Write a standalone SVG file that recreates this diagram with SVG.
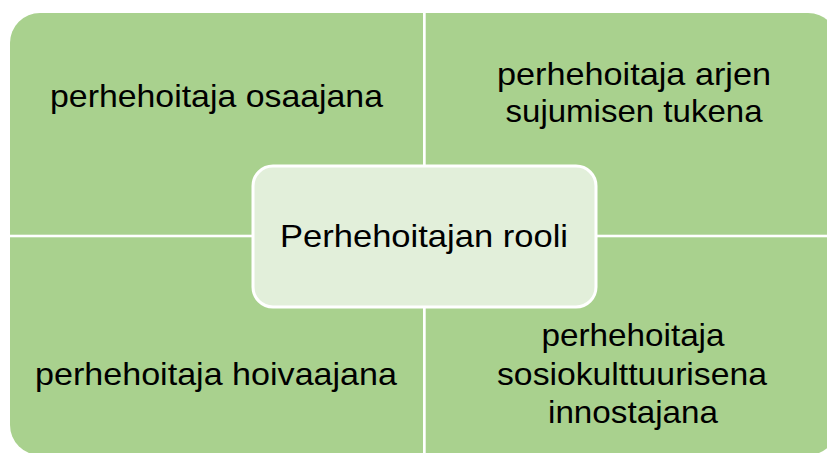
<svg xmlns="http://www.w3.org/2000/svg" width="827" height="453" viewBox="0 0 827 453">
  <defs>
    <clipPath id="outer">
      <rect x="10" y="13" width="828" height="442" rx="30" ry="30"/>
    </clipPath>
    <style>
      .quad { fill: #A9D18E; }
      .lbl { font-family: "Liberation Sans", Arial, sans-serif; font-size: 31.5px; fill: #000; text-anchor: middle; }
      .center { fill: #E2EFDA; stroke: #FFFFFF; stroke-width: 3; }
    </style>
  </defs>
  <rect width="827" height="453" fill="#FFFFFF"/>
  <g clip-path="url(#outer)">
    <g id="q-top-left">
      <rect class="quad" x="10" y="13" width="413" height="221.7"/>
      <text class="lbl" x="216.5" y="107" textLength="333" lengthAdjust="spacingAndGlyphs">perhehoitaja osaajana</text>
    </g>
    <g id="q-top-right">
      <rect class="quad" x="425.7" y="13" width="420" height="221.7"/>
      <text class="lbl" x="634" y="85" textLength="274" lengthAdjust="spacingAndGlyphs">perhehoitaja arjen</text>
      <text class="lbl" x="634" y="122" textLength="257" lengthAdjust="spacingAndGlyphs">sujumisen tukena</text>
    </g>
    <g id="q-bottom-left">
      <rect class="quad" x="10" y="237.3" width="413" height="220"/>
      <text class="lbl" x="216" y="385" textLength="362" lengthAdjust="spacingAndGlyphs">perhehoitaja hoivaajana</text>
    </g>
    <g id="q-bottom-right">
      <rect class="quad" x="425.7" y="237.3" width="420" height="220"/>
      <text class="lbl" x="633" y="346" textLength="183" lengthAdjust="spacingAndGlyphs">perhehoitaja</text>
      <text class="lbl" x="632" y="385" textLength="270" lengthAdjust="spacingAndGlyphs">sosiokulttuurisena</text>
      <text class="lbl" x="633" y="423" textLength="170" lengthAdjust="spacingAndGlyphs">innostajana</text>
    </g>
  </g>
  <g id="connectors"></g>
  <g id="center-node">
    <rect class="center" x="253" y="166" width="343" height="141" rx="20" ry="20"/>
    <text class="lbl" x="424" y="247" textLength="288" lengthAdjust="spacingAndGlyphs">Perhehoitajan rooli</text>
  </g>
</svg>
